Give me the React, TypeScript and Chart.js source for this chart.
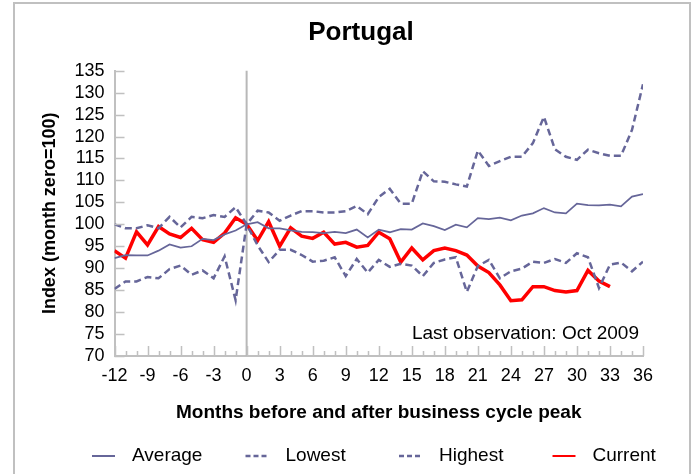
import React, { useEffect, useRef } from 'react';
import { Chart, registerables } from 'chart.js';

Chart.register(...registerables);

const FONT = "'Liberation Sans', Arial, sans-serif";

const chartTitle = 'Portugal';
const xAxisTitle = 'Months before and after business cycle peak';
const yAxisTitle = 'Index (month zero=100)';
const noteText = 'Last observation: Oct 2009';

const months = [
  -12, -11, -10, -9, -8, -7, -6, -5, -4, -3, -2, -1,
  0, 1, 2, 3, 4, 5, 6, 7, 8, 9, 10, 11, 12,
  13, 14, 15, 16, 17, 18, 19, 20, 21, 22, 23, 24,
  25, 26, 27, 28, 29, 30, 31, 32, 33, 34, 35, 36,
];

const average = [
  92.3, 93.0, 92.9, 92.9, 94.0, 95.4, 94.7, 95.0, 96.7, 96.4, 97.7, 98.6,
  100, 100.5, 99.1, 99.1, 98.6, 98.3, 98.2, 98.0, 98.3, 98.0, 98.8, 97.0, 98.8,
  98.2, 98.9, 98.8, 100.2, 99.6, 98.7, 99.9, 99.3, 101.4, 101.2, 101.5, 100.9,
  102.0, 102.5, 103.7, 102.7, 102.5, 104.7, 104.4, 104.3, 104.5, 104.1, 106.3, 106.9,
];

const lowest = [
  85.3, 87.0, 87.0, 88.0, 87.7, 89.8, 90.6, 88.5, 89.5, 87.7, 92.7, 82.7,
  100, 95.2, 91.4, 94.2, 94.2, 93.0, 91.5, 91.7, 92.5, 88.2, 92.1, 89.0, 91.9,
  90.3, 91.0, 90.6, 88.2, 91.2, 92.0, 92.5, 84.6, 90.5, 91.9, 87.7, 89.3,
  89.9, 91.5, 91.2, 92.1, 91.2, 93.4, 92.5, 85.5, 90.8, 91.3, 89.3, 91.5,
];

const highest = [
  100, 99.1, 99.1, 99.8, 99.1, 101.7, 99.3, 101.7, 101.4, 102.1, 101.7, 103.9,
  100, 103.1, 102.7, 100.8, 102.0, 103.0, 103.0, 102.7, 102.7, 103.0, 104.2, 102.3, 106.2,
  108.1, 104.7, 104.7, 112.1, 109.8, 109.7, 109.1, 108.6, 116.8, 113.3, 114.4, 115.4,
  115.4, 118.5, 124.5, 117.1, 115.4, 114.7, 117.0, 116.2, 115.6, 115.6, 121.5, 131.9,
];

const current = [
  94.0, 92.3, 98.3, 95.3, 99.5, 97.8, 97.0, 99.1, 96.5, 95.9, 98.0, 101.5,
  100, 96.3, 100.6, 95.0, 99.2, 97.3, 96.8, 98.2, 95.5, 95.9, 94.8, 95.2, 98.2,
  96.7, 91.4, 94.6, 91.9, 94.0, 94.6, 94.0, 93.0, 90.5, 89.0, 86.2, 82.6,
  82.8, 85.8, 85.8, 84.9, 84.6, 84.9, 89.5, 87.1, 85.8, null, null, null,
];

const X_MIN = -12;
const X_MAX = 36;
const X_STEP = 3;
const Y_MIN = 70;
const Y_MAX = 135;
const Y_STEP = 5;

const LINE_COLOR = '#666699';
const CURRENT_COLOR = '#ff0000';
const AXIS_GRAY = '#c0c0c0';

// legend layout (slot geometry)
const LEGEND_X0 = 92;
const LEGEND_SLOT = 153.5;
const LEGEND_LINE = 23;
const LEGEND_GAP = 17;
const LEGEND_Y = 456;

const toPoints = (vals: (number | null)[]) =>
  months.map((m, i) => ({ x: m, y: vals[i] }));

const decorPlugin = {
  id: 'decor',
  beforeDraw(chart: any) {
    const ctx = chart.ctx;
    ctx.save();
    ctx.fillStyle = '#ffffff';
    ctx.fillRect(0, 0, chart.width, chart.height);
    ctx.strokeStyle = AXIS_GRAY;
    ctx.lineWidth = 2;
    ctx.strokeRect(14, 3, 676, 520);
    ctx.restore();
  },
  beforeDatasetsDraw(chart: any) {
    const { ctx, chartArea, scales } = chart;
    const x0 = scales.x.getPixelForValue(0);
    ctx.save();
    ctx.strokeStyle = '#b8b8b8';
    ctx.lineWidth = 2;
    ctx.beginPath();
    ctx.moveTo(x0, chartArea.top);
    ctx.lineTo(x0, chartArea.bottom);
    ctx.stroke();
    ctx.restore();
  },
  afterDraw(chart: any) {
    const { ctx, chartArea, scales } = chart;
    ctx.save();
    // inward tick marks
    ctx.strokeStyle = AXIS_GRAY;
    ctx.lineWidth = 1.5;
    ctx.beginPath();
    for (let v = Y_MIN; v <= Y_MAX; v += Y_STEP) {
      const y = Math.round(scales.y.getPixelForValue(v)) + 0.5;
      ctx.moveTo(chartArea.left, y);
      ctx.lineTo(chartArea.left + 10, y);
    }
    months.forEach((m) => {
      const x = Math.round(scales.x.getPixelForValue(m)) + 0.5;
      const len = m % X_STEP === 0 ? 10 : 5;
      ctx.moveTo(x, chartArea.bottom);
      ctx.lineTo(x, chartArea.bottom - len);
    });
    ctx.stroke();

    // note
    ctx.fillStyle = '#000';
    ctx.font = `19px ${FONT}`;
    ctx.textAlign = 'right';
    ctx.textBaseline = 'alphabetic';
    ctx.fillText(noteText, chartArea.right - 4, 339);

    // legend
    ctx.textAlign = 'left';
    ctx.textBaseline = 'middle';
    chart.data.datasets.forEach((ds: any, i: number) => {
      const x = LEGEND_X0 + i * LEGEND_SLOT;
      ctx.save();
      ctx.strokeStyle = ds.borderColor;
      ctx.lineWidth = ds.legendWidth || ds.borderWidth;
      ctx.setLineDash(ds.borderDash ? [5, 3] : []);
      ctx.beginPath();
      ctx.moveTo(x, LEGEND_Y);
      ctx.lineTo(x + LEGEND_LINE, LEGEND_Y);
      ctx.stroke();
      ctx.restore();
      ctx.fillStyle = '#000';
      ctx.fillText(ds.label, x + LEGEND_LINE + LEGEND_GAP, LEGEND_Y);
    });
    ctx.restore();
  },
};

export default function App() {
  const canvasRef = useRef<HTMLCanvasElement | null>(null);

  useEffect(() => {
    document.body.style.margin = '0';
    const canvas = canvasRef.current;
    if (!canvas) return;
    Chart.defaults.font.family = FONT;
    Chart.defaults.color = '#000';

    const chart = new Chart(canvas, {
      type: 'line',
      data: {
        datasets: [
          {
            label: 'Average',
            data: toPoints(average),
            borderColor: LINE_COLOR,
            backgroundColor: LINE_COLOR,
            borderWidth: 1.75,
            legendWidth: 2,
            pointRadius: 0,
            tension: 0,
          },
          {
            label: 'Lowest',
            data: toPoints(lowest),
            borderColor: LINE_COLOR,
            backgroundColor: LINE_COLOR,
            borderWidth: 2.5,
            borderDash: [7, 4],
            pointRadius: 0,
            tension: 0,
          },
          {
            label: 'Highest',
            data: toPoints(highest),
            borderColor: LINE_COLOR,
            backgroundColor: LINE_COLOR,
            borderWidth: 2.5,
            borderDash: [7, 4],
            pointRadius: 0,
            tension: 0,
          },
          {
            label: 'Current',
            data: toPoints(current),
            borderColor: CURRENT_COLOR,
            backgroundColor: CURRENT_COLOR,
            borderWidth: 3.5,
            legendWidth: 2,
            pointRadius: 0,
            tension: 0,
            spanGaps: false,
          },
        ],
      },
      options: {
        responsive: false,
        animation: false,
        events: [],
        layout: { padding: { left: 28, right: 0, top: 0, bottom: 0 } },
        scales: {
          x: {
            type: 'linear',
            min: X_MIN,
            max: X_MAX,
            grid: { display: false, drawTicks: false },
            border: { display: true, color: AXIS_GRAY, width: 2 },
            ticks: {
              stepSize: X_STEP,
              autoSkip: false,
              maxRotation: 0,
              padding: 9,
              font: { size: 18 },
              color: '#000',
            },
            title: {
              display: true,
              text: xAxisTitle,
              font: { size: 19, weight: 'bold' },
              color: '#000',
              padding: { top: 0, bottom: 49.6 },
            },
            afterFit: (s: any) => {
              s.height = 118;
            },
          },
          y: {
            type: 'linear',
            position: 'left',
            min: Y_MIN,
            max: Y_MAX,
            grid: { display: false, drawTicks: false },
            border: { display: true, color: AXIS_GRAY, width: 2 },
            ticks: {
              stepSize: Y_STEP,
              autoSkip: false,
              padding: 10,
              font: { size: 18 },
              color: '#000',
            },
            title: {
              display: true,
              text: yAxisTitle,
              font: { size: 18, weight: 'bold' },
              color: '#000',
              padding: { top: 11.2, bottom: 0 },
            },
            afterFit: (s: any) => {
              s.width = 86.5;
            },
          },
          yRightSpace: {
            type: 'linear',
            position: 'right',
            display: true,
            grid: { display: false, drawTicks: false },
            border: { display: false },
            ticks: { display: false },
            title: { display: false },
            afterFit: (s: any) => {
              s.width = 51;
            },
          },
        },
        plugins: {
          title: {
            display: true,
            text: chartTitle,
            font: { size: 26, weight: 'bold' },
            color: '#000',
            padding: { top: 17, bottom: 22.5 },
          },
          legend: { display: false },
          tooltip: { enabled: false },
        },
      },
      plugins: [decorPlugin],
    } as any);

    return () => chart.destroy();
  }, []);

  return (
    <div style={{ position: 'relative', width: 694, height: 474, overflow: 'hidden' }}>
      <canvas ref={canvasRef} width={694} height={474} style={{ display: 'block' }} />
    </div>
  );
}
